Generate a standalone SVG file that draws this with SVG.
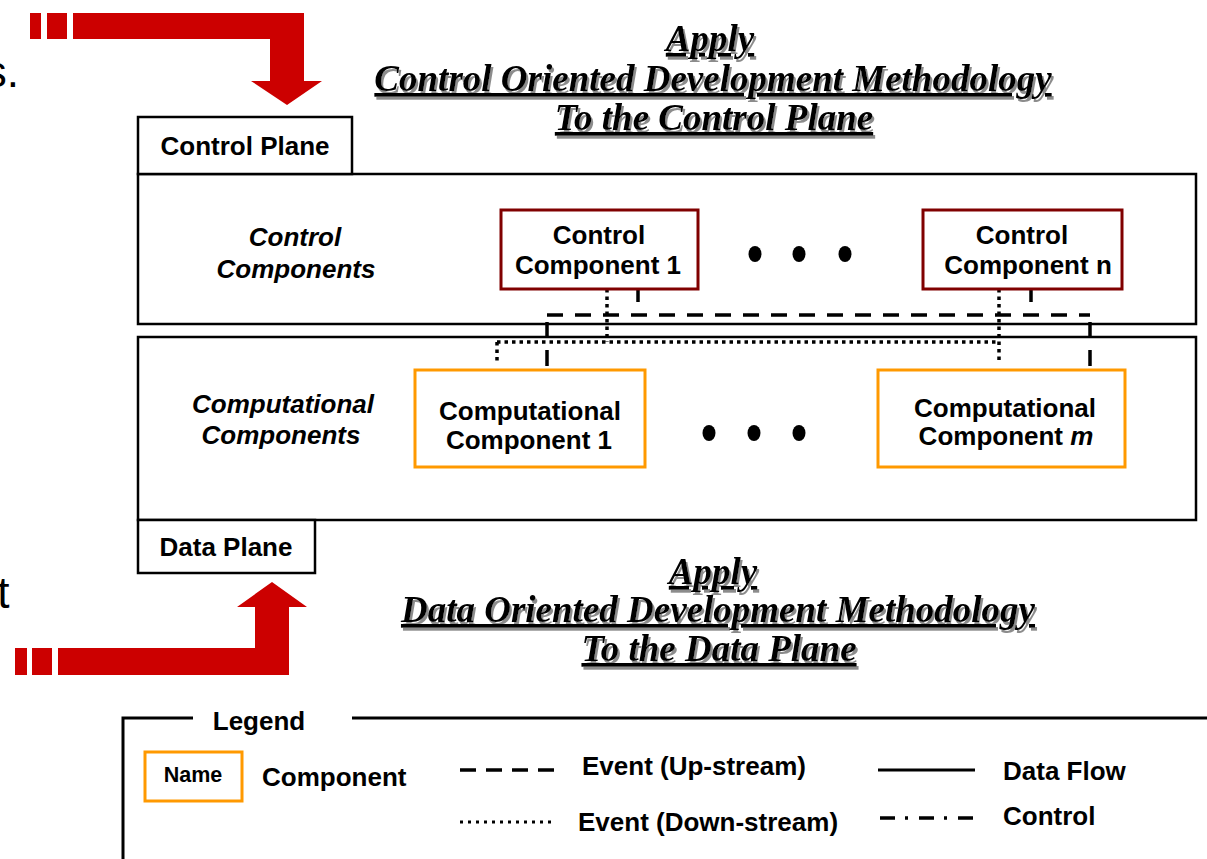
<svg xmlns="http://www.w3.org/2000/svg" width="1207" height="859" viewBox="0 0 1207 859">
<style>
.plane{fill:#fff;stroke:#000;stroke-width:2.5}
.tab{fill:#fff;stroke:#000;stroke-width:2.5}
.ctrl{fill:#fff;stroke:#800000;stroke-width:3}
.comp{fill:#fff;stroke:#FF9900;stroke-width:3}
.lbl{font-family:"Liberation Sans",Arial,sans-serif;font-weight:bold;font-size:26px;fill:#000;text-anchor:middle}
.ital{font-style:italic}
.leg{font-family:"Liberation Sans",Arial,sans-serif;font-weight:bold;font-size:26px;fill:#000}
.title{font-family:"Liberation Serif","Times New Roman",serif;font-weight:bold;font-style:italic;font-size:37px;text-anchor:middle;text-decoration:underline;fill:#000}
.dash{fill:none;stroke:#000;stroke-width:3.5;stroke-dasharray:16 12}
.dot{fill:none;stroke:#000;stroke-width:3.5;stroke-dasharray:3.5 4}
.solid{fill:none;stroke:#000;stroke-width:3}
.dashdot{fill:none;stroke:#000;stroke-width:3.5;stroke-dasharray:15 10 3 11}
.red{fill:#CC0000}
.frag{font-family:"Liberation Sans",Arial,sans-serif;font-size:44px;fill:#000;text-anchor:end}
</style>
<defs>
<filter id="shadow" x="-5%" y="-20%" width="110%" height="150%">
<feDropShadow dx="2" dy="3" stdDeviation="0.6" flood-color="#8c8c8c" flood-opacity="1"/>
</filter>
</defs>

<!-- cut-off text fragments at left edge -->
<text class="frag" x="19" y="87">s.</text>
<text class="frag" x="9.5" y="608">t</text>

<!-- red arrows -->
<g id="arrow-top">
<rect class="red" x="30" y="13" width="11" height="26"/>
<rect class="red" x="47" y="13" width="20" height="26"/>
<path class="red" d="M73,13 H304 V81 H322 L287,105 L251,81 H270 V39 H73 Z"/>
</g>
<g id="arrow-bottom">
<rect class="red" x="15" y="648" width="12" height="27"/>
<rect class="red" x="32" y="648" width="20" height="27"/>
<path class="red" d="M58,648 H255 V607 H237 L272,582 L307,607 H289 V675 H58 Z"/>
</g>

<!-- titles -->
<g id="title-top" filter="url(#shadow)">
<text class="title" x="710" y="51">Apply</text>
<text class="title" x="713" y="91">Control Oriented Development Methodology</text>
<text class="title" x="714" y="130">To the Control Plane</text>
</g>
<g id="title-bottom" filter="url(#shadow)">
<text class="title" x="713" y="584">Apply</text>
<text class="title" x="718" y="622">Data Oriented Development Methodology</text>
<text class="title" x="719" y="661">To the Data Plane</text>
</g>

<!-- planes -->
<g id="control-plane">
<rect class="plane" x="138" y="174" width="1058" height="150"/>
<rect class="tab" x="138" y="117" width="214" height="57"/>
<text class="lbl" x="245" y="155">Control Plane</text>
<text class="lbl ital" x="295" y="246">Control</text>
<text class="lbl ital" x="296" y="278">Components</text>
</g>
<g id="data-plane">
<rect class="plane" x="138" y="337" width="1058" height="183"/>
<rect class="tab" x="138" y="520" width="177" height="53"/>
<text class="lbl" x="226" y="556">Data Plane</text>
<text class="lbl ital" x="283" y="413">Computational</text>
<text class="lbl ital" x="281" y="444">Components</text>
</g>

<!-- connectors -->
<g id="connectors">
<path class="dash" d="M547,315 H1090"/>
<path class="dash" d="M547,366 V315"/>
<path class="dash" d="M1090,366 V315"/>
<path class="dash" d="M638,288 V302"/>
<path class="dash" d="M1031,288 V302"/>
<path class="dot" d="M497,342 H999"/>
<path class="dot" d="M607,289 V342"/>
<path class="dot" d="M999,289 V364"/>
<path class="dot" d="M497,342 V364"/>
</g>

<!-- control components -->
<g id="control-component-1">
<rect class="ctrl" x="501" y="210" width="197" height="79"/>
<text class="lbl" x="599" y="244">Control</text>
<text class="lbl" x="598" y="274">Component 1</text>
</g>
<g id="control-component-n">
<rect class="ctrl" x="923" y="210" width="199" height="79"/>
<text class="lbl" x="1022" y="244">Control</text>
<text class="lbl" x="1028" y="274">Component n</text>
</g>
<g id="control-ellipsis">
<ellipse cx="755" cy="254" rx="6.5" ry="8"/>
<ellipse cx="799" cy="254" rx="6.5" ry="8"/>
<ellipse cx="845" cy="254" rx="6.5" ry="8"/>
</g>

<!-- computational components -->
<g id="computational-component-1">
<rect class="comp" x="415" y="370" width="230" height="97"/>
<text class="lbl" x="530" y="420">Computational</text>
<text class="lbl" x="529" y="449">Component 1</text>
</g>
<g id="computational-component-m">
<rect class="comp" x="878" y="370" width="247" height="97"/>
<text class="lbl" x="1005" y="417">Computational</text>
<text class="lbl" x="1006" y="445">Component <tspan font-style="italic">m</tspan></text>
</g>
<g id="data-ellipsis">
<ellipse cx="709" cy="433" rx="6.5" ry="8"/>
<ellipse cx="754" cy="433" rx="6.5" ry="8"/>
<ellipse cx="799" cy="433" rx="6.5" ry="8"/>
</g>

<!-- legend -->
<g id="legend">
<path class="solid" d="M123,859 V718 H193 M352,718 H1207" stroke-width="2.5"/>
<text class="leg" x="259" y="730" text-anchor="middle">Legend</text>
<rect class="comp" x="145" y="752" width="97" height="49"/>
<text class="leg" x="193" y="782" text-anchor="middle" style="font-size:21.5px">Name</text>
<text class="leg" x="262" y="786">Component</text>
<path class="dash" d="M460,770 H556" style="stroke-dasharray:16 10"/>
<text class="leg" x="582" y="775">Event (Up-stream)</text>
<path class="dot" d="M460,822 H554" style="stroke-width:3;stroke-dasharray:3 5"/>
<text class="leg" x="578" y="831">Event (Down-stream)</text>
<path class="solid" d="M878,770 H975"/>
<text class="leg" x="1003" y="780">Data Flow</text>
<path class="dashdot" d="M880,818 H983"/>
<text class="leg" x="1003" y="825">Control</text>
</g>
</svg>
